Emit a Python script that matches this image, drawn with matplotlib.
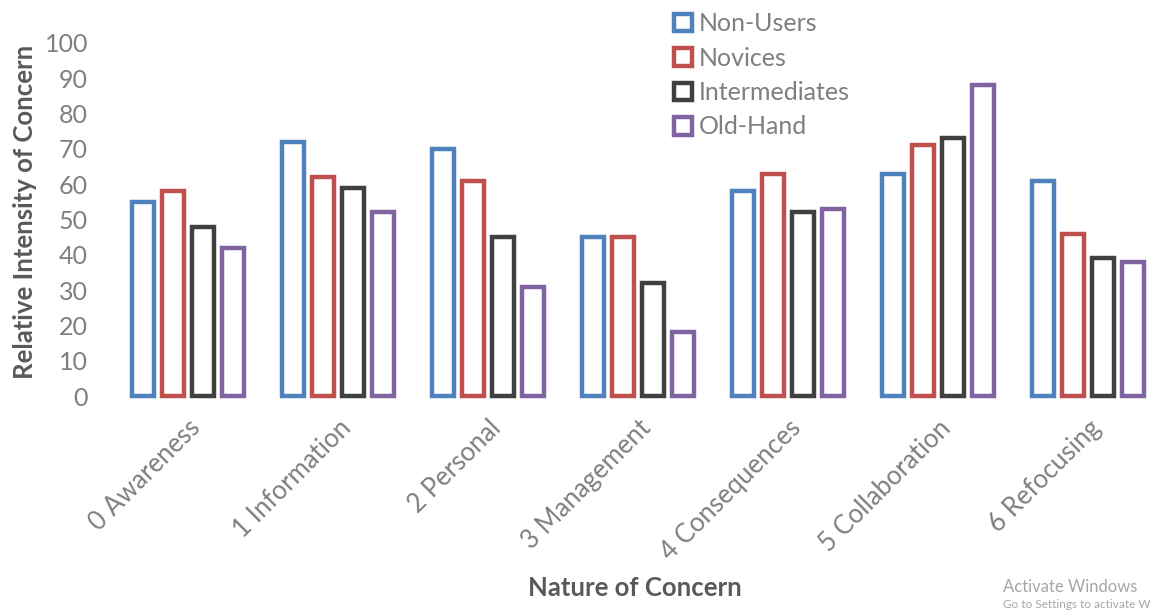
import matplotlib
matplotlib.use("Agg")
import matplotlib.pyplot as plt
import numpy as np
from matplotlib.patches import Patch

categories = ["0 Awareness", "1 Information", "2 Personal", "3 Management",
              "4 Consequences", "5 Collaboration", "6 Refocusing"]
series_names = ["Non-Users", "Novices", "Intermediates", "Old-Hand"]
non_users = [55, 72, 70, 45, 58, 63, 61]
novices = [58, 62, 61, 45, 63, 71, 46]
intermediates = [48, 59, 45, 32, 52, 73, 39]
old_hand = [42, 52, 31, 18, 53, 88, 38]
yticks = list(range(0, 101, 10))

colors = ["#4F81BD", "#C0504D", "#404040", "#8064A2"]
txt_gray = "#7F7F7F"
lbl_gray = "#595959"

plt.rcParams['font.family'] = ['Lato', 'DejaVu Sans']

fig = plt.figure(figsize=(11.66, 6.11), dpi=100)
ax = fig.add_axes([113/1166, 1-396/611, 1050/1166, 353/611])

x = np.arange(len(categories))
data = [non_users, novices, intermediates, old_hand]
pitch = 0.2
bw = 0.15
for i, (vals, c) in enumerate(zip(data, colors)):
    ax.bar(x + (i - 1.5) * pitch, vals, width=bw, facecolor="white",
           edgecolor=c, linewidth=3.2, clip_on=False, zorder=3)

ax.set_xlim(-0.5, len(categories) - 0.5)
ax.set_ylim(0, 100)
ax.set_yticks(yticks)
ax.set_yticklabels([str(v) for v in yticks], fontsize=18, color=txt_gray)
ax.set_xticks(x)
ax.set_xticklabels(categories, rotation=45, ha="right", rotation_mode="anchor",
                   fontsize=18.5, color=txt_gray)
ax.tick_params(axis="both", length=0)
ax.tick_params(axis="y", pad=18)
ax.tick_params(axis="x", pad=14)
for s in ax.spines.values():
    s.set_visible(False)

fig.text(25/1166, 1-212/611, "Relative Intensity of Concern", rotation=90,
         ha="center", va="center", fontsize=18.5, fontweight="bold", color=lbl_gray)
fig.text(635/1166, 1-588/611, "Nature of Concern", ha="center", va="center",
         fontsize=18.5, fontweight="bold", color=lbl_gray)

handles = [Patch(facecolor="white", edgecolor=c, linewidth=3.2) for c in colors]
leg = fig.legend(handles, series_names, loc="upper left",
                 bbox_to_anchor=(664/1166, 1-2/611), frameon=False,
                 fontsize=18, handlelength=0.7, handleheight=0.7,
                 handletextpad=0.3, labelspacing=0.46, borderaxespad=0)
for t in leg.get_texts():
    t.set_color(txt_gray)

fig.text(1003/1166, 1-587/611, "Activate Windows", fontsize=12, color="#A6A6A6",
         ha="left", va="center")
fig.text(1003/1166, 1-605/611, "Go to Settings to activate W", fontsize=8.5,
         color="#A6A6A6", ha="left", va="center")

fig.savefig("out.png", dpi=100)
